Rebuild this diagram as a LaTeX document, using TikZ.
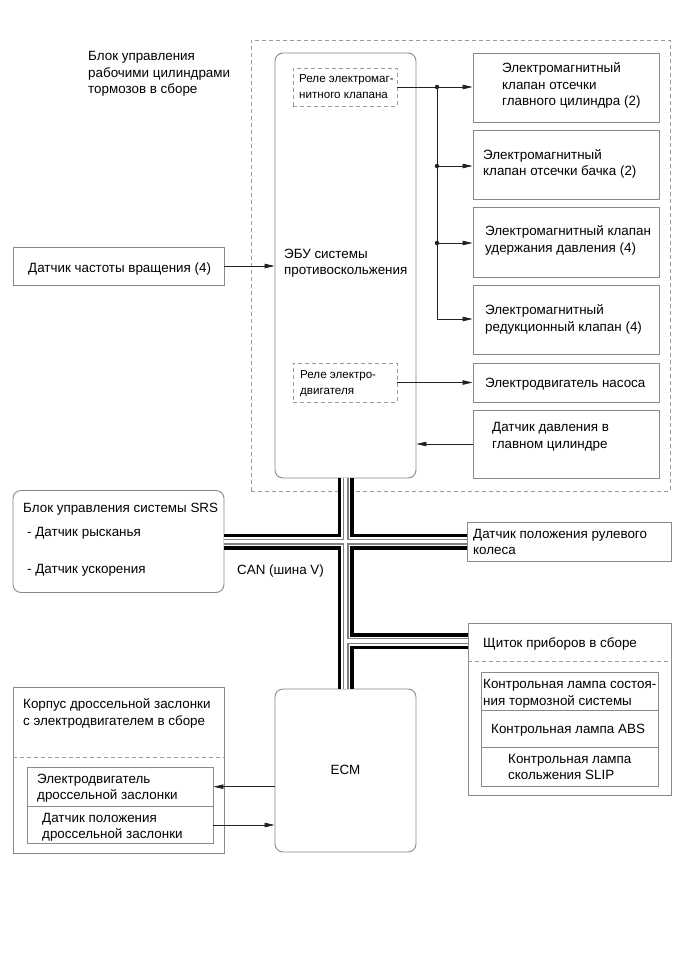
\documentclass[tikz,border=0pt]{standalone}
\usepackage{fontspec}
\setmainfont{Liberation Sans}
\usetikzlibrary{arrows.meta}
\definecolor{boxgray}{HTML}{8A8A8A}
\definecolor{dashgray}{HTML}{9A9A9A}
\definecolor{linegray}{HTML}{222222}
\begin{document}
\begin{tikzpicture}[x=1pt,y=-1pt,
  box/.style={draw=boxgray, line width=0.9pt, minimum width=#1, inner sep=0pt},
  rbox/.style={box=#1, rounded corners=8pt},
  dbox/.style={draw=dashgray, line width=0.8pt, dash pattern=on 4pt off 3pt, inner sep=0pt, minimum width=#1},
  txt/.style={inner sep=0pt, anchor=west, align=left, yshift=-1.5pt, font=\fontsize{13.4}{16.7}\selectfont},
  stxt/.style={txt, font=\fontsize{11.6}{16.5}\selectfont},
  arr/.style={draw=linegray, line width=0.7pt, -{Triangle[length=10pt,width=4.5pt]}},
  wire/.style={draw=linegray, line width=0.7pt},
  jdot/.style={circle, fill=linegray, inner sep=0pt, minimum size=4.5pt},
  sep/.style={draw=dashgray, line width=0.8pt, dash pattern=on 4pt off 3pt},
  divl/.style={draw=boxgray, line width=0.9pt}
]
\useasboundingbox (0,0) rectangle (687,956);
\fill[white] (0,0) rectangle (687,956);

% outer dashed group
\node[dbox=419pt, minimum height=451pt] (outer) at (460.5,265.5) {};
\node[txt] (title) at (88,72.5) {Блок управления\\рабочими цилиндрами\\тормозов в сборе};

% ECU
\node[rbox=141pt, minimum height=425pt] (ecu) at (345.5,265.5) {};
\node[txt] (ecut) at (284,261.7) {ЭБУ системы\\противоскольжения};
\node[dbox=104pt, minimum height=38pt] (r1) at (345,87) {};
\node[stxt] (r1t) at (299,85) {Реле электромаг-\\нитного клапана};
\node[dbox=104pt, minimum height=39pt] (r2) at (345,382.5) {};
\node[stxt] (r2t) at (300,382) {Реле электро-\\двигателя};

% right boxes
\node[box=186pt, minimum height=69pt] (v1) at (566,87.5) {};
\node[txt] (v1t) at (502,84) {Электромагнитный\\клапан отсечки\\главного цилиндра (2)};
\node[box=186pt, minimum height=69pt] (v2) at (566,164.5) {};
\node[txt] (v2t) at (483,162.5) {Электромагнитный\\клапан отсечки бачка (2)};
\node[box=186pt, minimum height=70pt] (v3) at (566,242) {};
\node[txt] (v3t) at (485,239) {Электромагнитный клапан\\удержания давления (4)};
\node[box=186pt, minimum height=69pt] (v4) at (566,319.5) {};
\node[txt] (v4t) at (485,318) {Электромагнитный\\редукционный клапан (4)};
\node[box=186pt, minimum height=39pt] (pump) at (566,382.5) {};
\node[txt] (pumpt) at (485,382.7) {Электродвигатель насоса};
\node[box=186pt, minimum height=68pt] (ps) at (566,444) {};
\node[txt] (pst) at (492,435) {Датчик давления в\\главном цилиндре};

% speed sensor
\node[box=211pt, minimum height=38pt] (spd) at (118.5,266) {};
\node[txt] (spdt) at (28,268) {Датчик частоты вращения (4)};

% SRS
\node[rbox=211pt, minimum height=102pt] (srs) at (118.5,541.5) {};
\node[txt] (srst1) at (23,507.3) {Блок управления системы SRS};
\node[txt] (srst2) at (27,531.7) {- Датчик рысканья};
\node[txt] (srst3) at (27,568.3) {- Датчик ускорения};
\node[txt] (can) at (237,569.5) {CAN (шина V)};

% steering sensor
\node[box=204pt, minimum height=39pt] (steer) at (569,541.5) {};
\node[txt] (steert) at (473,540.5) {Датчик положения рулевого\\колеса};

% cluster
\node[box=203pt, minimum height=172pt] (clus) at (569.5,709) {};
\node[txt] (clust) at (483,642.7) {Щиток приборов в сборе};
\draw[sep] (clus.west |- 0,661) -- (clus.east |- 0,661);
\node[box=177pt, minimum height=114pt] (clusin) at (569.5,729) {};
\draw[divl] (clusin.west |- 0,710) -- (clusin.east |- 0,710);
\draw[divl] (clusin.west |- 0,747.5) -- (clusin.east |- 0,747.5);
\node[txt] (lamp1) at (483,692.5) {Контрольная лампа состоя-\\ния тормозной системы};
\node[txt] (lamp2) at (491,728.3) {Контрольная лампа ABS};
\node[txt] (lamp3) at (508,765.5) {Контрольная лампа\\скольжения SLIP};

% throttle
\node[box=211pt, minimum height=166pt] (thr) at (118.5,770) {};
\node[txt] (thrt) at (23,712) {Корпус дроссельной заслонки\\с электродвигателем в сборе};
\draw[sep] (thr.west |- 0,757.7) -- (thr.east |- 0,757.7);
\node[box=186pt, minimum height=76pt] (thrin) at (120,805) {};
\draw[divl] (thrin.west |- 0,806) -- (thrin.east |- 0,806);
\node[txt] (tmot) at (37,786.7) {Электродвигатель\\дроссельной заслонки};
\node[txt] (tsen) at (42,825.7) {Датчик положения\\дроссельной заслонки};

% ECM
\node[rbox=141pt, minimum height=163pt] (ecm) at (345.5,770.5) {};
\node[txt, anchor=center] (ecmt) at (345.5,768) {ECM};

% connectors in ECU group
\node[jdot] (d1) at (437,87) {};
\node[jdot] (d2) at (437,166) {};
\node[jdot] (d3) at (437,243) {};
\coordinate (d4) at (437,319);
\draw[arr] (r1.east) -- (r1.east -| v1.west);
\draw[wire] (d1.center) -- (d4);
\draw[arr] (d2.center) -- (d2 -| v2.west);
\draw[arr] (d3.center) -- (d3 -| v3.west);
\draw[arr] (d4) -- (d4 -| v4.west);
\draw[arr] (r2.east) -- (r2.east -| pump.west);
\draw[arr] (ps.west) -- (ps.west -| ecu.east);
\draw[arr] (spd.east) -- (spd.east -| ecu.west);

% ECM connectors
\coordinate (e1) at (ecm.west |- 0,786.7);
\coordinate (e2) at (ecm.west |- 0,825);
\draw[arr] (e1) -- (e1 -| thrin.east);
\draw[arr] (e2 -| thrin.east) -- (e2);

% CAN bus
\coordinate (cj) at (345.5,641);
\foreach \w/\c in {16/black, 9/white, 6/gray, 3.5/white} {
  \draw[line width=\w pt, draw=\c, line cap=butt]
    (ecu.south) -- (ecm.north)
    (srs.east) -- (steer.west)
    (cj) -- (cj -| clus.west);
}
\end{tikzpicture}
\end{document}
